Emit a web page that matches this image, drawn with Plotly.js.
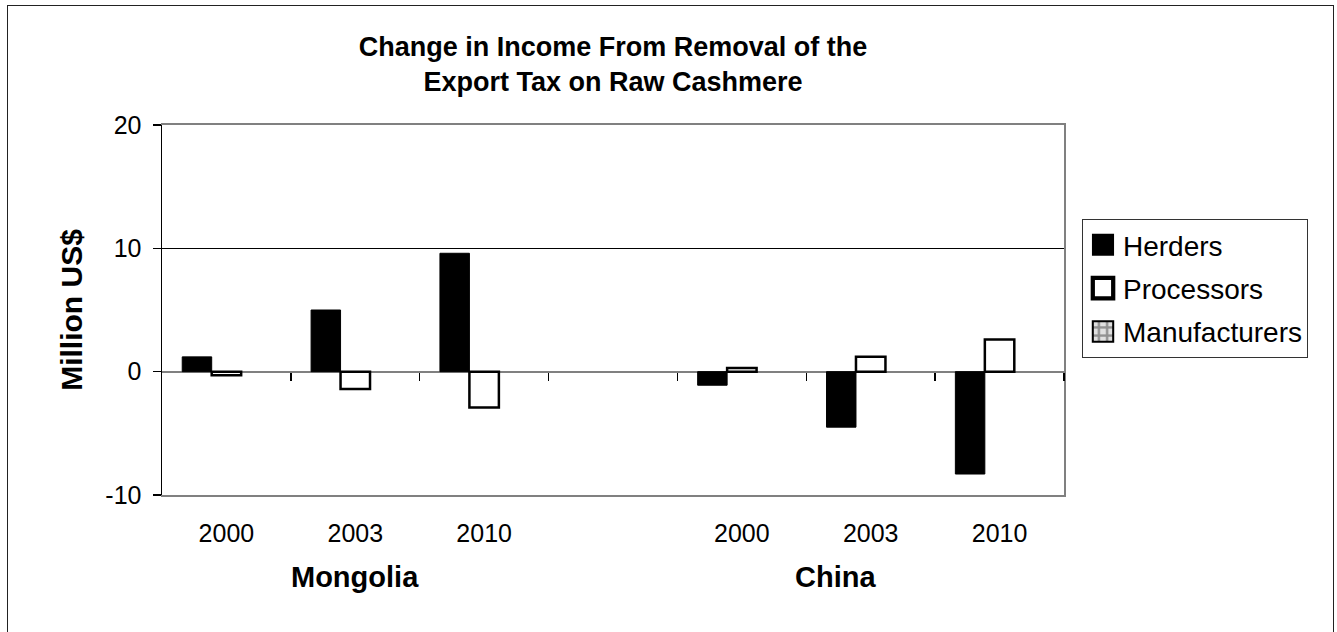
<!DOCTYPE html>
<html>
<head>
<meta charset="utf-8">
<script src="https://cdn.plot.ly/plotly-3.0.1.min.js"></script>
<style>
  html, body { margin: 0; padding: 0; background: #fff; }
  #wrap { position: relative; width: 1337px; height: 632px; }
  #chart { width: 1337px; height: 632px; }
  #frame { position: absolute; left: 7px; top: 5px; width: 1327px; height: 630px; border: 1.5px solid #222; box-sizing: border-box; pointer-events: none; }
</style>
</head>
<body>
<div id="wrap">
  <div id="chart"></div>
  <div id="frame"></div>
</div>
<script>
// ---- data ----
const years = ["2000", "2003", "2010", "", "2000", "2003", "2010"];
const groups = ["Mongolia", "China"];
const groupCenters = [1, 4.73];
const herders = [1.2, 5.0, 9.6, null, -1.1, -4.5, -8.3];
const processors = [-0.3, -1.4, -2.9, null, 0.3, 1.2, 2.6];
const manufacturers = [0, 0, 0, null, 0, 0, 0];
const seriesNames = ["Herders", "Processors", "Manufacturers"];
const yTickVals = [-10, 0, 10, 20];
const yTickText = ["-10", "0", "10", "20"];

const slots = years.map((_, i) => i);
const labelIdx = slots.filter(i => years[i] !== "");
const boundaries = slots.map(i => i + 0.5);

const FONT = "Liberation Sans, Arial, Helvetica, sans-serif";

const traces = [
  { type: "bar", name: seriesNames[0], legendgroup: "a", x: slots, y: herders,
    marker: { color: "#000000", line: { color: "#000000", width: 1 } } },
  { type: "bar", name: seriesNames[1], legendgroup: "b", x: slots, y: processors,
    marker: { color: "#ffffff", line: { color: "#000000", width: 2.5 } } },
  { type: "bar", name: seriesNames[2], legendgroup: "c", x: slots, y: manufacturers,
    marker: { color: "#ffffff", line: { color: "#000000", width: 0 },
              pattern: { shape: "+", fgcolor: "#909090", bgcolor: "#e0e0e0", size: 6, solidity: 0.5 } } },
  { type: "scatter", x: [slots[0]], y: [0], xaxis: "x2", mode: "markers",
    marker: { opacity: 0 }, showlegend: false, hoverinfo: "skip" },
  { type: "scatter", x: [slots[0]], y: [0], yaxis: "y2", mode: "markers",
    marker: { opacity: 0 }, showlegend: false, hoverinfo: "skip" }
];

const layout = {
  width: 1337, height: 632,
  margin: { l: 162, r: 273, t: 125, b: 137 },
  paper_bgcolor: "#ffffff", plot_bgcolor: "#ffffff",
  font: { family: FONT, color: "#000000", size: 25 },
  title: {
    text: "Change in Income From Removal of the<br>Export Tax on Raw Cashmere",
    font: { family: FONT, size: 27, weight: "bold", color: "#000" },
    x: 0.5, xref: "paper", xanchor: "center",
    y: 1 - 56 / 632, yref: "container", yanchor: "top"
  },
  barmode: "group",
  bargap: 0.314,
  bargroupgap: 0,
  showlegend: true,
  legend: {
    x: (1082 - 162) / 902, xanchor: "left",
    y: (495 - 219) / 370, yanchor: "top",
    bordercolor: "#333333", borderwidth: 1, bgcolor: "#ffffff",
    font: { family: FONT, size: 28, color: "#000" },
    tracegroupgap: 4,
    itemclick: false, itemdoubleclick: false
  },
  xaxis: {
    range: [-0.5, slots.length - 0.5],
    tickmode: "array",
    tickvals: labelIdx,
    ticktext: labelIdx.map(i => years[i]),
    ticks: "", ticklabelstandoff: 15,
    showgrid: false, zeroline: false,
    showline: true, linecolor: "#808080", linewidth: 2, mirror: true,
    tickfont: { family: FONT, size: 25, color: "#000" },
    fixedrange: true
  },
  xaxis2: {
    overlaying: "x", anchor: "free", position: 1 / 3, side: "bottom",
    range: [-0.5, slots.length - 0.5],
    tickmode: "array", tickvals: boundaries,
    ticks: "outside", ticklen: 8, tickwidth: 1.5, tickcolor: "#000",
    showticklabels: false, showgrid: false, zeroline: false, showline: false,
    fixedrange: true
  },
  yaxis: {
    range: [-10, 20],
    tickmode: "array", tickvals: yTickVals, ticktext: yTickText,
    ticks: "outside", ticklen: 8, tickwidth: 1.5, tickcolor: "#000",
    ticklabelstandoff: 6,
    showgrid: true, gridcolor: "#000000", gridwidth: 1,
    zeroline: true, zerolinecolor: "#808080", zerolinewidth: 2,
    showline: true, linecolor: "#000000", linewidth: 1.5,
    tickfont: { family: FONT, size: 25, color: "#000" },
    title: { text: "Million US$", font: { family: FONT, size: 30, weight: "bold", color: "#000" }, standoff: 14 },
    fixedrange: true
  },
  yaxis2: {
    overlaying: "y", side: "right", range: [-10, 20],
    showline: true, linecolor: "#808080", linewidth: 2,
    showgrid: false, zeroline: false, showticklabels: false, ticks: "",
    fixedrange: true
  },
  annotations: groups.map((g, k) => ({
    text: "<b>" + g + "</b>", x: groupCenters[k], xref: "x",
    y: -(577 - 495) / 370, yref: "paper", yanchor: "middle", xanchor: "center",
    showarrow: false, font: { family: FONT, size: 29, color: "#000" }
  }))
};

Plotly.newPlot("chart", traces, layout, { displayModeBar: false, staticPlot: true }).then(() => {
  const pts = document.querySelectorAll(".legend .legendpoints path");
  pts.forEach((p, i) => {
    const t = p.getAttribute("transform") || "";
    p.setAttribute("transform", t + " scale(1.7)");
  });
  document.querySelectorAll(".legend .traces").forEach(tr => {
    const txt = tr.querySelector(".legendtext");
    if (txt && txt.textContent === seriesNames[2]) {
      tr.querySelectorAll(".legendpoints path").forEach(p => {
        p.style.stroke = "#000";
        p.style.strokeWidth = "1.2px";
      });
    }
  });
});
</script>
</body>
</html>
